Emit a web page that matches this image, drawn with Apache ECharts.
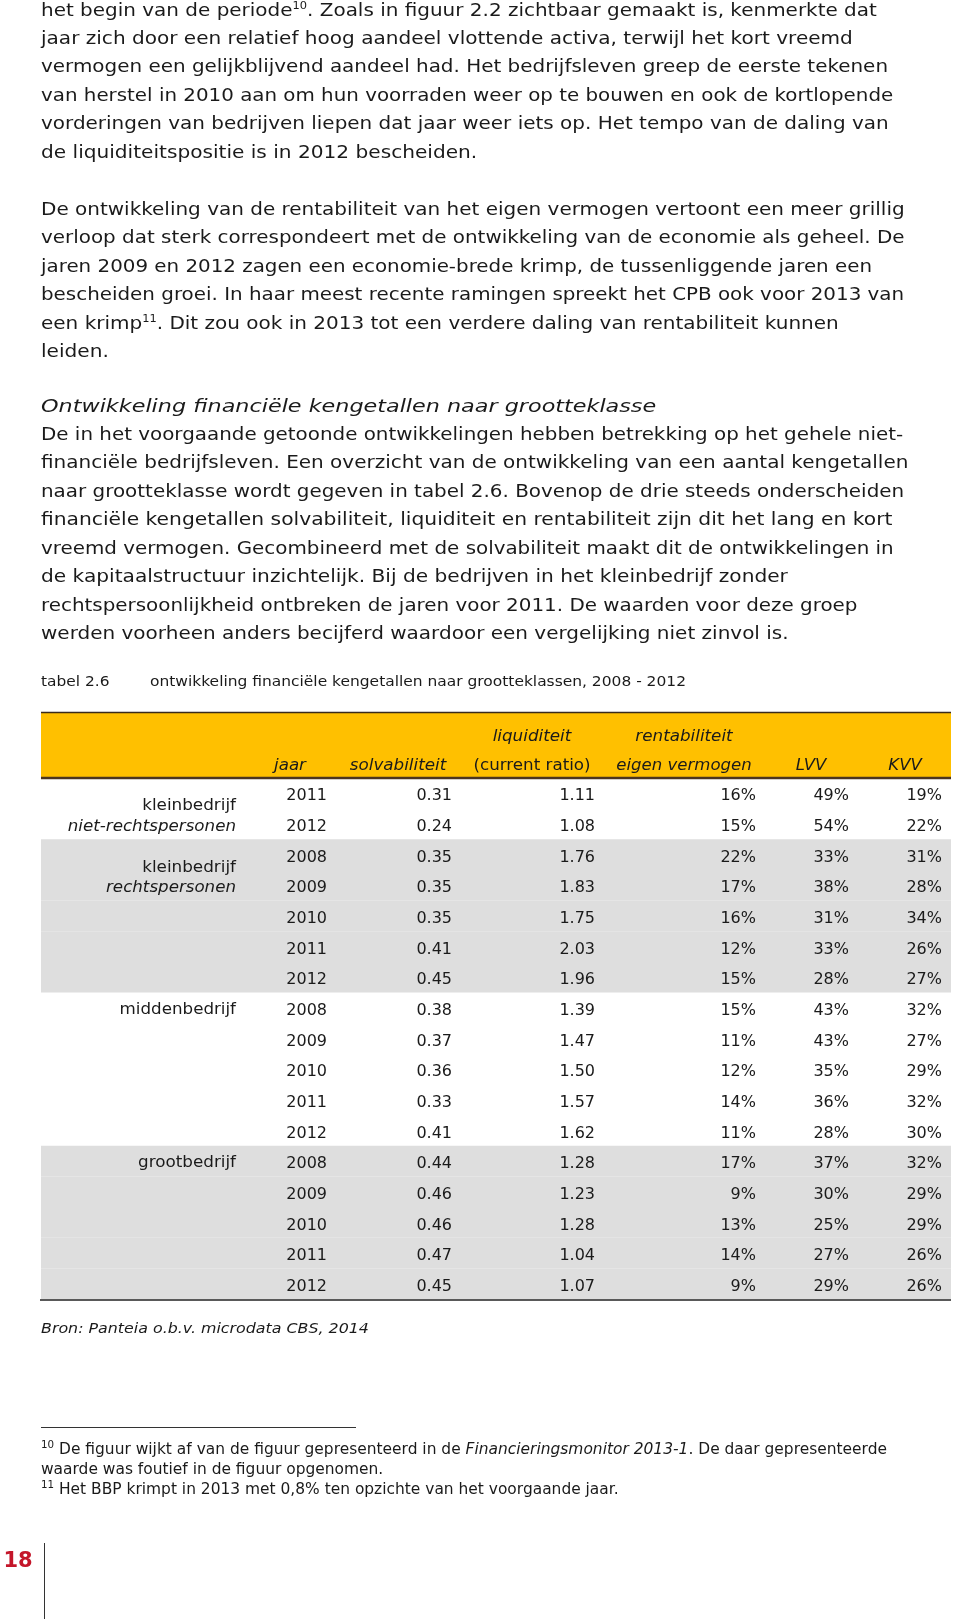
<!DOCTYPE html>
<html>
<head>
<meta charset="utf-8">
<script src="https://cdn.jsdelivr.net/npm/echarts@6/dist/echarts.min.js"></script>
<style>
  html, body { margin: 0; padding: 0; background: #fff; }
  #pagina { width: 960px; height: 1619px; }
</style>
</head>
<body>
<div id="pagina"></div>
<script>
// tabel 2.6 - ontwikkeling financiele kengetallen naar grootteklassen
var groepNaam = ['kleinbedrijf', 'kleinbedrijf', 'middenbedrijf', 'grootbedrijf'];
var groepSub = ['niet-rechtspersonen', 'rechtspersonen', '', ''];
var groepJaren = [
    [2011, 2012],
    [2008, 2009, 2010, 2011, 2012],
    [2008, 2009, 2010, 2011, 2012],
    [2008, 2009, 2010, 2011, 2012]
];
var solvabiliteit = [0.31, 0.24, 0.35, 0.35, 0.35, 0.41, 0.45, 0.38, 0.37, 0.36, 0.33, 0.41, 0.44, 0.46, 0.46, 0.47, 0.45];
var liquiditeit = [1.11, 1.08, 1.76, 1.83, 1.75, 2.03, 1.96, 1.39, 1.47, 1.50, 1.57, 1.62, 1.28, 1.23, 1.28, 1.04, 1.07];
var rentabiliteit = [16, 15, 22, 17, 16, 12, 15, 15, 11, 12, 14, 11, 17, 9, 13, 14, 9];
var lvv = [49, 54, 33, 38, 31, 33, 28, 43, 43, 35, 36, 28, 37, 30, 25, 27, 29];
var kvv = [19, 22, 31, 28, 34, 26, 27, 32, 27, 29, 32, 30, 32, 29, 29, 26, 26];

var koppen1 = ['', '', 'liquiditeit', 'rentabiliteit', '', ''];
var koppen2 = ['jaar', 'solvabiliteit', '(current ratio)', 'eigen vermogen', 'LVV', 'KVV'];

var alinea1 = [
    'het begin van de periode{sup|10}. Zoals in figuur 2.2 zichtbaar gemaakt is, kenmerkte dat',
    'jaar zich door een relatief hoog aandeel vlottende activa, terwijl het kort vreemd',
    'vermogen een gelijkblijvend aandeel had. Het bedrijfsleven greep de eerste tekenen',
    'van herstel in 2010 aan om hun voorraden weer op te bouwen en ook de kortlopende',
    'vorderingen van bedrijven liepen dat jaar weer iets op. Het tempo van de daling van',
    'de liquiditeitspositie is in 2012 bescheiden.'
];
var alinea2 = [
    'De ontwikkeling van de rentabiliteit van het eigen vermogen vertoont een meer grillig',
    'verloop dat sterk correspondeert met de ontwikkeling van de economie als geheel. De',
    'jaren 2009 en 2012 zagen een economie-brede krimp, de tussenliggende jaren een',
    'bescheiden groei. In haar meest recente ramingen spreekt het CPB ook voor 2013 van',
    'een krimp{sup|11}. Dit zou ook in 2013 tot een verdere daling van rentabiliteit kunnen',
    'leiden.'
];
var kopje = 'Ontwikkeling financiële kengetallen naar grootteklasse';
var alinea3 = [
    'De in het voorgaande getoonde ontwikkelingen hebben betrekking op het gehele niet-',
    'financiële bedrijfsleven. Een overzicht van de ontwikkeling van een aantal kengetallen',
    'naar grootteklasse wordt gegeven in tabel 2.6. Bovenop de drie steeds onderscheiden',
    'financiële kengetallen solvabiliteit, liquiditeit en rentabiliteit zijn dit het lang en kort',
    'vreemd vermogen. Gecombineerd met de solvabiliteit maakt dit de ontwikkelingen in',
    'de kapitaalstructuur inzichtelijk. Bij de bedrijven in het kleinbedrijf zonder',
    'rechtspersoonlijkheid ontbreken de jaren voor 2011. De waarden voor deze groep',
    'werden voorheen anders becijferd waardoor een vergelijking niet zinvol is.'
];
var voetnoten = [
    '{sup|10} De figuur wijkt af van de figuur gepresenteerd in de {i|Financieringsmonitor 2013-1}. De daar gepresenteerde',
    'waarde was foutief in de figuur opgenomen.',
    '{sup|11} Het BBP krimpt in 2013 met 0,8% ten opzichte van het voorgaande jaar.'
];

var FONT = '"DejaVu Sans", Verdana, sans-serif';
var INKT = '#1a1a1a';

// de pdf-tekst heeft wat extra letterafstand: benaderen met scaleX
var meetCtx = document.createElement('canvas').getContext('2d');
function rek(tekst, font, ls) {
    var plat = tekst.replace(/\{\w+\|([^}]*)\}/g, '$1');
    meetCtx.font = font;
    var w = meetCtx.measureText(plat).width;
    return w > 0 ? 1 + ls * plat.length / w : 1;
}

// rijen van de tabel opbouwen
var jaren = [], groepStart = [], grijs = [];
groepJaren.forEach(function (jj, g) {
    groepStart.push(jaren.length);
    jj.forEach(function (j) {
        if (g % 2 === 1) grijs.push(jaren.length);
        jaren.push(j);
    });
});
var rijen = jaren.map(function (j, i) { return 'r' + i; });

// kolommen: rechterkant in pixels
var tabelL = 41, tabelR = 951;
var kolommen = [
    {naam: 'jaar', waarden: jaren, rechts: 327, fmt: function (v) { return String(v); }},
    {naam: 'solvabiliteit', waarden: solvabiliteit, rechts: 452, fmt: function (v) { return v.toFixed(2); }},
    {naam: 'liquiditeit', waarden: liquiditeit, rechts: 595, fmt: function (v) { return v.toFixed(2); }},
    {naam: 'rentabiliteit', waarden: rentabiliteit, rechts: 756, fmt: function (v) { return v + '%'; }},
    {naam: 'LVV', waarden: lvv, rechts: 849, fmt: function (v) { return v + '%'; }},
    {naam: 'KVV', waarden: kvv, rechts: 942, fmt: function (v) { return v + '%'; }}
];
var kopMidden = [290, 398, 532, 684, 811, 905];

var myChart = echarts.init(document.getElementById('pagina'));

var series = [];

// grijze banden
series.push({
    type: 'custom',
    name: 'band',
    silent: true,
    data: grijs.map(function (r) { return [tabelL, r]; }),
    renderItem: function (params, api) {
        var p = api.coord([api.value(0), api.value(1)]);
        var h = api.size([0, 1])[1];
        return {
            type: 'rect',
            shape: {x: p[0], y: p[1] - h / 2, width: api.size([tabelR - tabelL, 0])[0], height: h},
            style: {fill: '#dedede'}
        };
    }
});

// groepnamen
function labelTekst(x, y, t, font) {
    return {type: 'text', x: x, y: y, scaleX: rek(t, font, 0.37),
        style: {text: t, align: 'right', verticalAlign: 'middle', font: font, fill: INKT}};
}
series.push({
    type: 'custom',
    name: 'groep',
    silent: true,
    data: groepStart.map(function (r, g) { return [236, r, g]; }),
    renderItem: function (params, api) {
        var g = api.value(2);
        var p = api.coord([api.value(0), api.value(1)]);
        var h = api.size([0, 1])[1];
        var kinderen = [];
        if (groepSub[g]) {
            kinderen.push(labelTekst(p[0], p[1] + 13, groepNaam[g], '16px ' + FONT));
            kinderen.push(labelTekst(p[0], p[1] + h + 3, groepSub[g], 'italic 16px ' + FONT));
        } else {
            kinderen.push(labelTekst(p[0], p[1] + 2, groepNaam[g], '16px ' + FONT));
        }
        return {type: 'group', children: kinderen};
    }
});

kolommen.forEach(function (k) {
    series.push({
        type: 'custom',
        name: k.naam,
        silent: true,
        data: k.waarden.map(function (v, i) { return [k.rechts, i, v]; }),
        renderItem: function (params, api) {
            var p = api.coord([api.value(0), api.value(1)]);
            return {
                type: 'text',
                x: p[0],
                y: p[1] + 3,
                style: {text: k.fmt(api.value(2)), align: 'right', verticalAlign: 'middle', font: '16px ' + FONT, fill: INKT}
            };
        }
    });
});

// tekstregels als graphic
var graphic = [];
var rich = {
    sup: {fontSize: 10, fontFamily: FONT, fill: INKT, verticalAlign: 'top', lineHeight: 20},
    i: {fontStyle: 'italic', fontSize: 15, fontFamily: FONT, fill: INKT}
};
function regels(lijst, y0, stap, font, ls, x) {
    lijst.forEach(function (t, i) {
        graphic.push({
            type: 'text',
            x: x || 41,
            y: y0 + stap * i,
            scaleX: rek(t, font, ls),
            style: {
                text: t,
                font: font,
                fill: INKT,
                verticalAlign: 'middle',
                rich: rich
            }
        });
    });
}
regels(alinea1, 11, 28.45, '17.5px ' + FONT, 1.26);
regels(alinea2, 210.5, 28.45, '17.5px ' + FONT, 1.26);
regels([kopje], 407.5, 0, 'italic 17.5px ' + FONT, 2.45);
regels(alinea3, 435.5, 28.45, '17.5px ' + FONT, 1.26);

regels(['tabel 2.6'], 682, 0, '14.5px ' + FONT, 0.45);
regels(['ontwikkeling financiële kengetallen naar grootteklassen, 2008 - 2012'], 682, 0, '14.5px ' + FONT, 0.49, 150);

// kop van de tabel
graphic.push({type: 'rect', shape: {x: tabelL, y: 712, width: tabelR - tabelL, height: 66}, style: {fill: '#ffc000'}, z: -1});
graphic.push({type: 'line', shape: {x1: tabelL, y1: 712.5, x2: tabelR, y2: 712.5}, style: {stroke: '#3a2a1a', lineWidth: 1.5}});
graphic.push({type: 'line', shape: {x1: tabelL, y1: 778, x2: tabelR, y2: 778}, style: {stroke: '#4a3520', lineWidth: 2.5}});
graphic.push({type: 'line', shape: {x1: tabelL - 1, y1: 1300, x2: tabelR, y2: 1300}, style: {stroke: '#222', lineWidth: 1.5}});
function kopTekst(t, x, y, font) {
    graphic.push({type: 'text', x: x, y: y, scaleX: rek(t, font, 0.33),
        style: {text: t, align: 'center', verticalAlign: 'middle', font: font, fill: INKT}});
}
koppen1.forEach(function (t, i) {
    if (t) kopTekst(t, kopMidden[i], 737, 'italic 16px ' + FONT);
});
koppen2.forEach(function (t, i) {
    kopTekst(t, kopMidden[i], 765.5, (t.charAt(0) === '(' ? '16px ' : 'italic 16px ') + FONT);
});

regels(['Bron: Panteia o.b.v. microdata CBS, 2014'], 1329.5, 0, 'italic 14.5px ' + FONT, 0.7);

// voetnoten
graphic.push({type: 'line', shape: {x1: 41, y1: 1427.5, x2: 356, y2: 1427.5}, style: {stroke: '#333', lineWidth: 1}});
regels(voetnoten, 1450, 20, '15px ' + FONT, 0.23);

// paginanummer
graphic.push({type: 'text', x: 18, y: 1562, style: {text: '18', align: 'center', verticalAlign: 'middle', font: 'bold 21px ' + FONT, fill: '#c4162a'}});
graphic.push({type: 'line', shape: {x1: 44.5, y1: 1543, x2: 44.5, y2: 1619}, style: {stroke: '#333', lineWidth: 1}});

var option = {
    animation: false,
    grid: {left: 0, right: 0, top: 778, height: 17 * 30.65},
    xAxis: {type: 'value', min: 0, max: 960, show: false},
    yAxis: {type: 'category', data: rijen, inverse: true, show: false},
    graphic: graphic,
    series: series
};
myChart.setOption(option);
</script>
</body>
</html>
